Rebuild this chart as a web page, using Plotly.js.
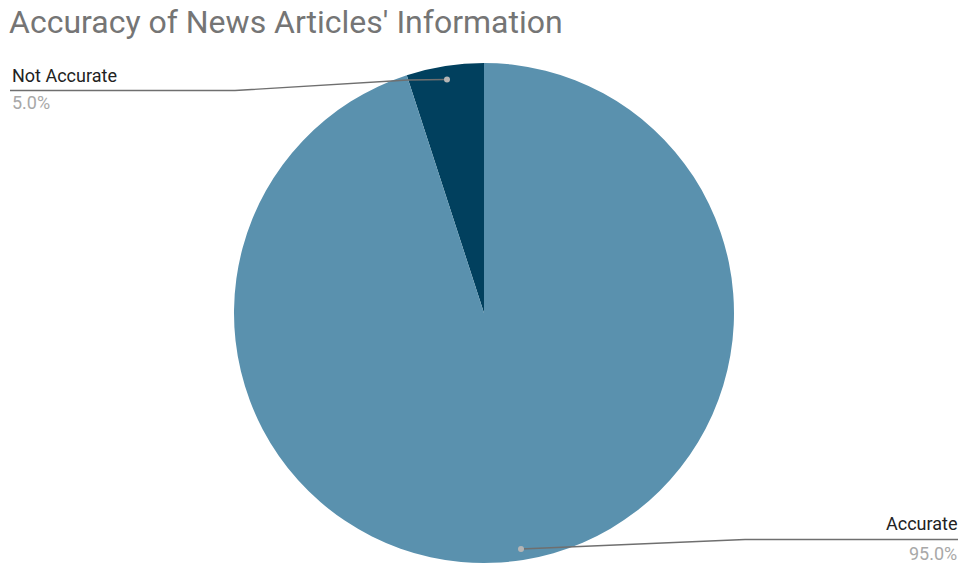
<!DOCTYPE html>
<html><head><meta charset="utf-8">
<script src="https://cdn.plot.ly/plotly-3.0.1.min.js"></script>
<style>html,body{margin:0;padding:0;background:#fff;}#chart{width:960px;height:566px;}</style>
</head><body><div id="chart"></div>
<script>
const labels = ["Not Accurate", "Accurate"];
const values = [5.0, 95.0];
const colors = ["#01405e", "#5a91ae"];

const W = 960, H = 566;
const px = x => x / W;
const py = y => 1 - y / H;
const pt = (x, y) => px(x) + ',' + py(y);

const data = [{
  type: 'pie',
  labels: labels,
  values: values,
  sort: false,
  direction: 'clockwise',
  rotation: -18,
  marker: {colors: colors, line: {width: 0}},
  textinfo: 'none',
  hoverinfo: 'label+percent',
  showlegend: false,
  domain: {x: [px(234), px(734)], y: [py(563), py(63)]}
}];

const pctText = v => v.toFixed(1) + '%';
const font = 'Roboto, Arial, sans-serif';

const layout = {
  width: W, height: H,
  margin: {l: 0, r: 0, t: 0, b: 0},
  paper_bgcolor: '#fff',
  showlegend: false,
  title: {text: "Accuracy of News Articles' Information", x: px(9), xanchor: 'left', y: py(22), yanchor: 'middle',
          font: {family: font, size: 32, color: '#757575'}},
  annotations: [
    {text: labels[0], xref: 'paper', yref: 'paper', x: px(10), y: py(75), xanchor: 'left', yanchor: 'middle', showarrow: false,
     font: {family: font, size: 18, color: '#222'}},
    {text: pctText(values[0]), xref: 'paper', yref: 'paper', x: px(10), y: py(103), xanchor: 'left', yanchor: 'middle', showarrow: false,
     font: {family: font, size: 18, color: '#a8a8a8'}},
    {text: labels[1], xref: 'paper', yref: 'paper', x: px(959), y: py(523), xanchor: 'right', yanchor: 'middle', showarrow: false,
     font: {family: font, size: 18, color: '#222'}},
    {text: pctText(values[1]), xref: 'paper', yref: 'paper', x: px(959), y: py(553), xanchor: 'right', yanchor: 'middle', showarrow: false,
     font: {family: font, size: 18, color: '#a8a8a8'}}
  ],
  shapes: [
    {type: 'path', xref: 'paper', yref: 'paper', path: 'M' + pt(10, 90.5) + ' L' + pt(235, 90.5) + ' L' + pt(408, 80) + ' L' + pt(447, 79.5),
     line: {color: '#6f6f6f', width: 1.3}},
    {type: 'path', xref: 'paper', yref: 'paper', path: 'M' + pt(521, 549) + ' L' + pt(745, 539.5) + ' L' + pt(958, 539.5),
     line: {color: '#6f6f6f', width: 1.3}},
    {type: 'circle', xref: 'paper', yref: 'paper', x0: px(444), x1: px(450), y0: py(76.5), y1: py(82.5),
     fillcolor: '#b5b5b5', line: {width: 0}},
    {type: 'circle', xref: 'paper', yref: 'paper', x0: px(518), x1: px(524), y0: py(546), y1: py(552),
     fillcolor: '#b5b5b5', line: {width: 0}}
  ]
};

Plotly.newPlot('chart', data, layout, {displayModeBar: false, staticPlot: true});
</script></body></html>
